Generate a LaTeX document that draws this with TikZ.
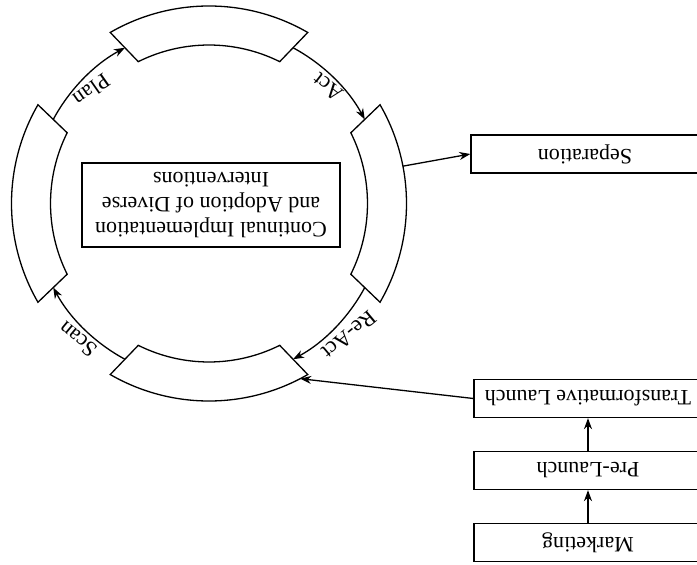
\documentclass[tikz,border=0pt]{standalone}
\usepackage{graphicx}
\usepackage{fontspec}
\setmainfont{Liberation Serif}
\usetikzlibrary{arrows.meta}
\begin{document}
\begin{tikzpicture}[x=1pt,y=1pt,
  line width=1.3pt,
  every node/.style={font=\fontsize{22}{25}\selectfont},
  flow/.style={-{Stealth[length=11pt,width=8pt,inset=3.5pt]}, line width=1.3pt},
  stage/.style={draw, line width=1.3pt, minimum width=228, minimum height=38, inner sep=0pt},
  seg/.style={draw, line width=1.3pt, fill=white},
  lbl/.style={inner sep=0pt}
]
\useasboundingbox (-209,-361.5) rectangle (488,203.5);

% four ring segments around the cycle
\foreach \a in {0,90,180,270}
  \draw[seg] ({\a+30}:197.5) arc[start angle=\a+30, end angle=\a-30, radius=197.5]
    -- ({\a-26.5}:158.5) arc[start angle=\a-26.5, end angle=\a+26.5, radius=158.5] -- cycle;

% central box
\node[draw, rotate=180, align=center, minimum width=258, minimum height=84, inner sep=0pt]
  (core) at (2,-1.5) {Continual Implementation\\and Adoption of Diverse\\Interventions};

% stage boxes on the right
\node[stage] (sep) at (376,49.5) {\rotatebox{180}{Separation}};
\node[stage] (tl)  at (379,-195) {\rotatebox{180}{Transformative Launch}};
\node[stage] (pl)  at (379,-267) {\rotatebox{180}{Pre-Launch}};
\node[stage] (mkt) at (379,-339) {\rotatebox{180}{Marketing}};

% connection points on the segments
\coordinate (planS)  at (151.65:177);
\coordinate (actS)   at (61.65:177);
\coordinate (reactS) at (-28.35:177);
\coordinate (scanS)  at (241.65:177);
\coordinate (sepOut) at (10.9:197.5);
\coordinate (tlIn)   at (-62.5:197.5);

% cycle arcs
\draw[flow] (planS)  arc[start angle=151.65, end angle=118.35, radius=177];
\draw[flow] (actS)   arc[start angle=61.65,  end angle=28.35,  radius=177];
\draw[flow] (reactS) arc[start angle=-28.35, end angle=-61.65, radius=177];
\draw[flow] (scanS)  arc[start angle=241.65, end angle=208.35, radius=177];

% cycle labels
\node[lbl, rotate=215] (planL)  at (136:163)   {Plan};
\node[lbl, rotate=142] (actL)   at (44.4:166)  {Act};
\node[lbl, rotate=220] (reactL) at (-43.2:192) {Re-Act};
\node[lbl, rotate=140] (scanL)  at (226:189)   {Scan};

% links to and from the stage boxes
\draw[flow] (sepOut) -- (sep.west);
\draw[flow] (tl.west) -- (tlIn);
\draw[flow] (mkt.north) -- (pl.south);
\draw[flow] (pl.north) -- (tl.south);
\end{tikzpicture}
\end{document}
